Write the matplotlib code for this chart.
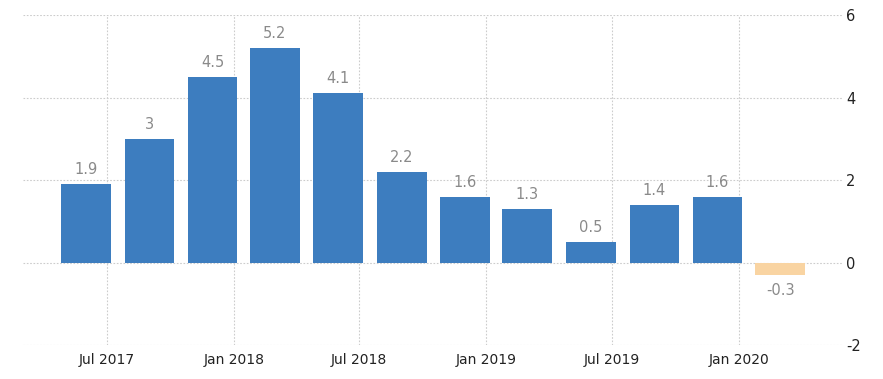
import matplotlib
matplotlib.use("Agg")
import matplotlib.pyplot as plt
import matplotlib.dates as mdates
import pandas as pd

plt.rcParams["axes.unicode_minus"] = False

# quarterly growth, bars placed at the last month of each quarter
quarters = ["2017-06-01", "2017-09-01", "2017-12-01", "2018-03-01",
            "2018-06-01", "2018-09-01", "2018-12-01", "2019-03-01",
            "2019-06-01", "2019-09-01", "2019-12-01", "2020-03-01"]
values = [1.9, 3, 4.5, 5.2, 4.1, 2.2, 1.6, 1.3, 0.5, 1.4, 1.6, -0.3]
labels = ["1.9", "3", "4.5", "5.2", "4.1", "2.2", "1.6", "1.3", "0.5", "1.4", "1.6", "-0.3"]
x_ticks = ["2017-07-01", "2018-01-01", "2018-07-01", "2019-01-01", "2019-07-01", "2020-01-01"]
y_ticks = [-2, 0, 2, 4, 6]

BLUE = "#3d7dbf"
ORANGE = "#f9d4a2"

dates = pd.to_datetime(quarters)
colors = [BLUE if v >= 0 else ORANGE for v in values]

fig = plt.figure(figsize=(8.83, 3.79), dpi=100)
ax = fig.add_axes([0.026, 0.0897, 0.9275, 0.8707])

ax.bar(dates, values, width=72, color=colors, zorder=2)

for d, v, s in zip(dates, values, labels):
    if v >= 0:
        ax.annotate(s, (d, v), xytext=(0, 5), textcoords="offset points",
                    ha="center", va="bottom", fontsize=10.5, color="#8a8a8a")
    else:
        ax.annotate(s, (d, v), xytext=(0, -6), textcoords="offset points",
                    ha="center", va="top", fontsize=10.5, color="#8a8a8a")

ax.set_xlim(pd.Timestamp("2017-03-02"), pd.Timestamp("2020-05-29"))
ax.set_ylim(-2, 6)
ax.set_xticks(pd.to_datetime(x_ticks))
ax.xaxis.set_major_formatter(mdates.DateFormatter("%b %Y"))
ax.set_yticks(y_ticks)
ax.yaxis.tick_right()

ax.tick_params(axis="x", length=0, pad=6, labelsize=10, labelcolor="#222222")
ax.tick_params(axis="y", length=0, pad=3, labelsize=10.5, labelcolor="#222222")

ax.grid(True, color="#cccccc", linestyle=(0, (1.5, 1.5)), linewidth=0.8, zorder=0)
ax.set_axisbelow(True)
for sp in ax.spines.values():
    sp.set_visible(False)

fig.savefig("out.png", dpi=100)
